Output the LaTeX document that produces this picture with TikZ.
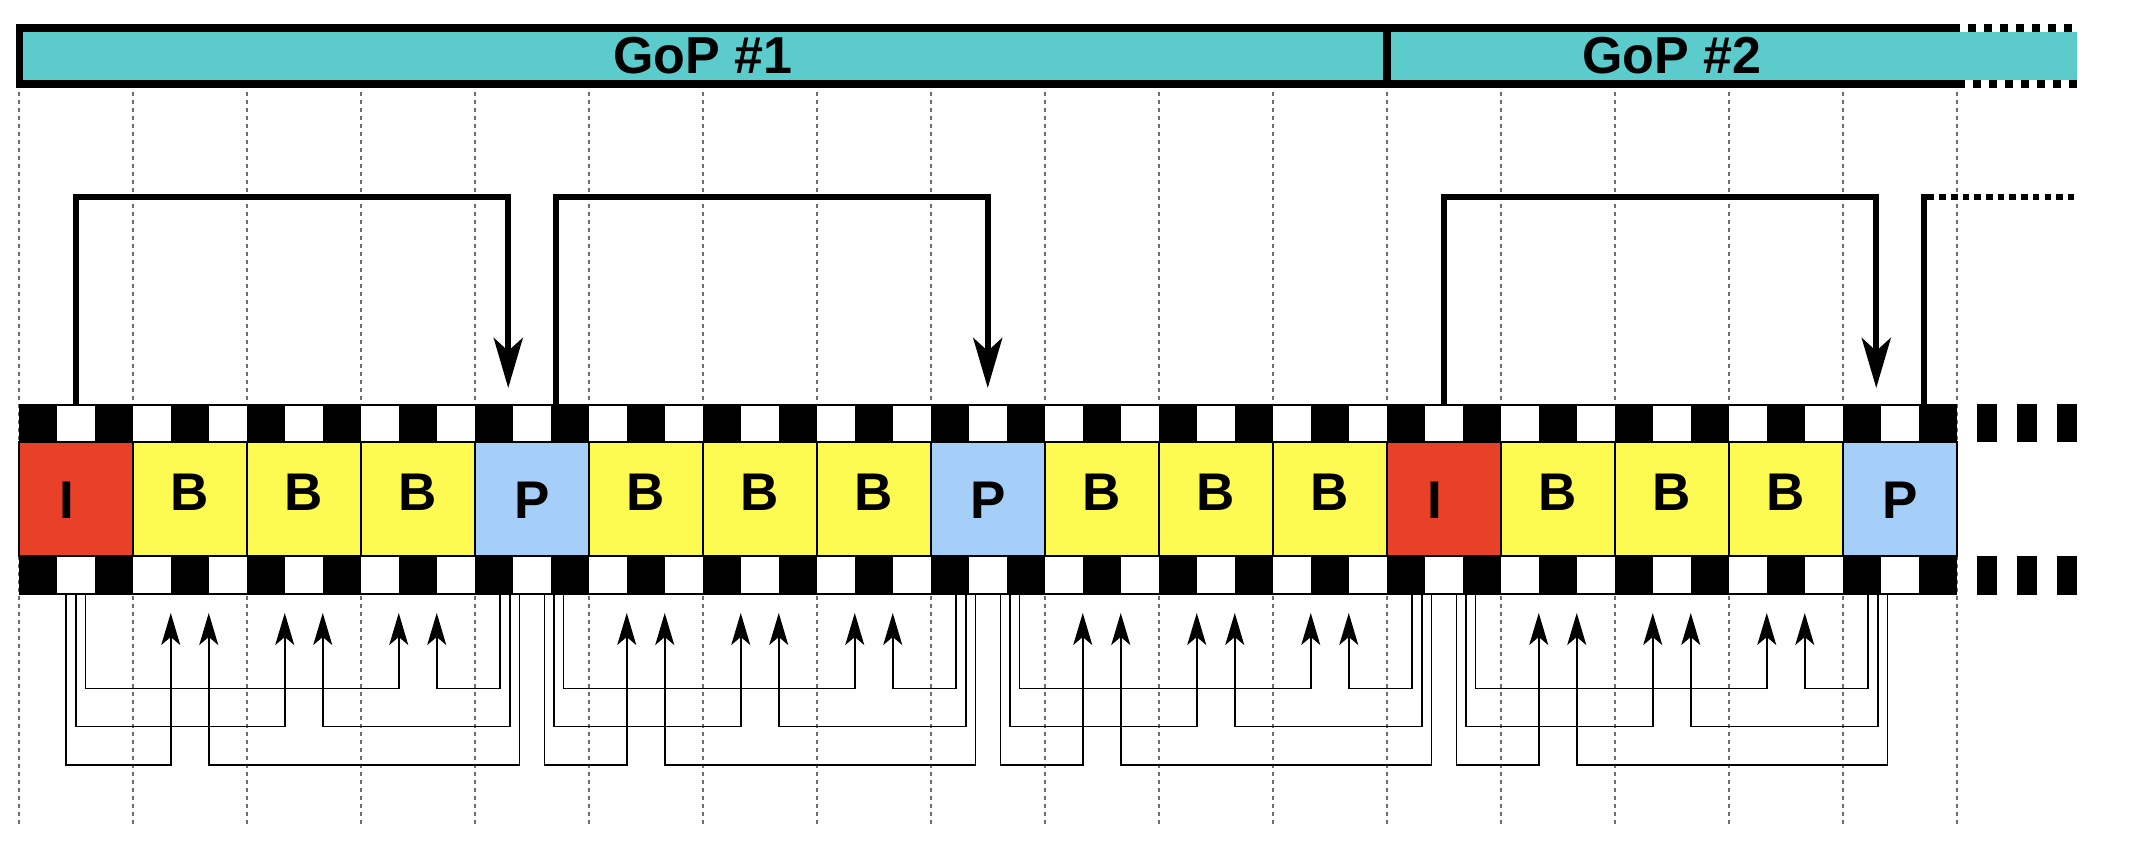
\documentclass[tikz,border=0pt]{standalone}
\usepackage{fontspec}
\setmainfont{Liberation Sans}
\usetikzlibrary{arrows.meta,calc}
\definecolor{gopc}{RGB}{92,203,203}
\definecolor{ired}{RGB}{233,65,40}
\definecolor{byel}{RGB}{253,251,82}
\definecolor{pblue}{RGB}{165,206,248}
\definecolor{gridg}{RGB}{110,110,110}
\begin{document}
\begin{tikzpicture}[x=0.5pt,y=-0.5pt,
  frame/.style={draw=black, line width=1pt, minimum width=57pt, minimum height=57pt, inner sep=0pt, outer sep=0pt},
  lbl/.style={font=\fontsize{26.5}{30}\selectfont\bfseries, anchor=base, inner sep=0pt},
  goptext/.style={font=\fontsize{26}{30}\selectfont\bfseries, anchor=base, inner sep=0pt},
  gridline/.style={draw=gridg, line width=1pt, dash pattern=on 2pt off 2pt},
  gopline/.style={line width=3.85pt, line join=miter},
  ref/.style={line width=3pt, line join=miter, -{Stealth[length=25pt,width=14.5pt,inset=6.5pt]}},
  bref/.style={line width=0.8pt, line join=miter, -{Stealth[length=16pt,width=9.5pt,inset=4pt]}}
]
\useasboundingbox (0,0) rectangle (2154,848);
\fill[white] (0,0) rectangle (2154,848);
% grid
\foreach \k in {0,...,17}{
  \draw[gridline] (18.75+114*\k,91.7) -- (18.75+114*\k,824);
}
% GoP bar
\fill[gopc] (19.4,31.7) rectangle (2076.7,80);
\draw[gopline] (1960,27.8) -- (19.4,27.8) -- (19.4,83.7) -- (1965,83.7);
\draw[gopline] (1386.75,27.8) -- (1386.75,83.7);
\draw[gopline, line join=miter, dash pattern=on 4pt off 4pt, dash phase=4pt] (1960,27.8) -- (2077,27.8);
\draw[gopline, line join=miter, dash pattern=on 4pt off 4pt, dash phase=4pt] (1965,83.7) -- (2077,83.7);
\node[goptext] (g1) at (702.75,73.7) {GoP \#1};
\node[goptext] (g2) at (1671.75,73.7) {GoP \#2};
% sprocket rows
\fill[black] (18.75,404) rectangle (1956.75,442);
\fill[black] (18.75,556) rectangle (1956.75,595);
\foreach \j in {1,3,...,49}{
  \fill[white] (18.75+38*\j,406) rectangle (56.75+38*\j,442);
  \fill[white] (18.75+38*\j,556) rectangle (56.75+38*\j,593.3);
}
% frames
\foreach \i/\t/\c in {0/I/ired,1/B/byel,2/B/byel,3/B/byel,4/P/pblue,5/B/byel,6/B/byel,7/B/byel,8/P/pblue,9/B/byel,10/B/byel,11/B/byel,12/I/ired,13/B/byel,14/B/byel,15/B/byel,16/P/pblue}{
  \node[frame, fill=\c] (f\i) at (75.75+114*\i,499) {};
}
\foreach \i/\t/\dx/\yb in {0/I/-9/518,1/B/0/510,2/B/0/510,3/B/0/510,4/P/0/518,5/B/0/510,6/B/0/510,7/B/0/510,8/P/0/518,9/B/0/510,10/B/0/510,11/B/0/510,12/I/-9/518,13/B/0/510,14/B/0/510,15/B/0/510,16/P/0/518}{
  \node[lbl] (l\i) at (75.75+114*\i+\dx,\yb) {\t};
}
% right film ends
\foreach \s in {0,1,2}{
  \fill[black] (1976.7+40*\s,404) rectangle (1996.7+40*\s,442);
  \fill[black] (1976.7+40*\s,556) rectangle (1996.7+40*\s,595);
}
% top reference arrows
\draw[ref] ($(f0.north)+(0,-38)$) -- ($(f0.north)+(0,-245)$) -| ($(f4.north west)+(33.5,-54)$);
\draw[ref] ($(f4.north west)+(80.75,-38)$) -- ($(f4.north west)+(80.75,-245)$) -| ($(f8.north)+(0,-54)$);
\draw[ref] ($(f12.north)+(0,-38)$) -- ($(f12.north)+(0,-245)$) -| ($(f16.north west)+(33.5,-54)$);
\draw[line width=3pt, line join=miter] ($(f16.north west)+(80.75,-38)$) -- ($(f16.north west)+(80.75,-245)$) coordinate (c4) -- ($(c4)+(4,0)$) coordinate (c5);
\draw[line width=3pt, dash pattern=on 3.3pt off 2.55pt] (c5) -- ($(c4)+(150,0)$);
% bottom reference arrows
\foreach \g in {0,1,2,3}{
  \pgfmathtruncatemacro\ia{4*\g}
  \pgfmathtruncatemacro\ib{4*\g+4}
  \pgfmathsetmacro\rc{(\g==0) ? 57 : 79.3}
  \foreach \q in {1,2,3}{
    \pgfmathtruncatemacro\kk{\ia+\q}
    \pgfmathsetmacro\dl{93.5+38.1*(3-\q)}
    \pgfmathsetmacro\xl{\rc+(\q-2)*9.6}
    \pgfmathsetmacro\xr{35-(\q-2)*9.6}
    \draw[bref] ($(f\ia.south west)+(\xl,39)$) -- ++(0,\dl) -| ($(f\kk.south west)+(38,57)$);
    \draw[bref] ($(f\ib.south west)+(\xr,39)$) -- ++(0,\dl) -| ($(f\kk.south west)+(76,57)$);
  }
}
\end{tikzpicture}
\end{document}
